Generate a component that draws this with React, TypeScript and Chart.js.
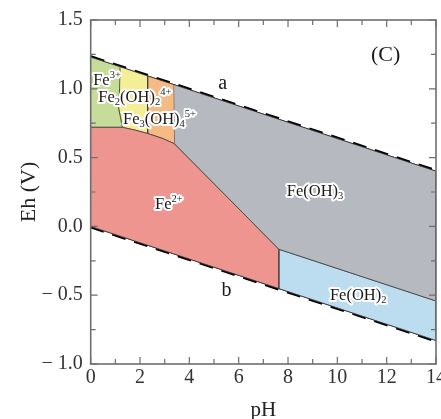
import { useEffect, useRef } from "react";
import { Chart, registerables } from "chart.js";

Chart.register(...registerables);

// ---- axis ticks ----
const pHTicks = [0, 2, 4, 6, 8, 10, 12, 14];
const ehTicks = [-1.0, -0.5, 0.0, 0.5, 1.0, 1.5];
const pHMinor = [1, 3, 5, 7, 9, 11, 13];
const ehMinor = [-0.75, -0.25, 0.25, 0.75, 1.25];

// ---- water stability lines (pH, Eh) ----
const waterA = [[0, 1.23], [14, 0.401]];
const waterB = [[0, 0.0], [14, -0.829]];

// ---- stability fields (pH, Eh) ----
const fe3Field = [[0, 1.23], [1.19, 1.16], [1.17, 1.0], [1.13, 0.86], [1.22, 0.78], [1.28, 0.72], [0, 0.72]];
const fe2oh2Field = [[1.19, 1.16], [2.31, 1.093], [2.31, 0.675], [1.8, 0.7], [1.28, 0.72], [1.22, 0.78], [1.13, 0.86], [1.17, 1.0]];
const fe3oh4Field = [[2.31, 1.093], [3.38, 1.03], [3.4, 0.6], [2.9, 0.64], [2.31, 0.675]];
const feoh3Field = [[3.38, 1.03], [14, 0.401], [14, -0.542], [7.63, -0.166], [3.4, 0.6]];
const fe2Field = [[0, 0.72], [1.28, 0.72], [1.8, 0.7], [2.31, 0.675], [2.9, 0.64], [3.4, 0.6], [7.63, -0.166], [7.63, -0.452], [0, 0]];
const feoh2Field = [[7.63, -0.166], [14, -0.542], [14, -0.829], [7.63, -0.452]];

// ---- text labels: parts [text, kind] kind 0 normal, 1 sub, 2 sup ----
type Part = [string, number];
const fieldLabels: { parts: Part[]; pH: number; eh: number }[] = [
  { parts: [["Fe", 0], ["3+", 2]], pH: 0.1, eh: 1.026 },
  { parts: [["Fe", 0], ["2", 1], ["(OH)", 0], ["2", 1], ["4+", 2]], pH: 0.31, eh: 0.902 },
  { parts: [["Fe", 0], ["3", 1], ["(OH)", 0], ["4", 1], ["5+", 2]], pH: 1.31, eh: 0.742 },
  { parts: [["Fe", 0], ["2+", 2]], pH: 2.61, eh: 0.13 },
  { parts: [["Fe(OH)", 0], ["3", 1]], pH: 7.95, eh: 0.219 },
  { parts: [["Fe(OH)", 0], ["2", 1]], pH: 9.7, eh: -0.534 },
];
const plainLabels: { text: string; pH: number; eh: number; size: number }[] = [
  { text: "a", pH: 5.35, eh: 0.997, size: 20 },
  { text: "b", pH: 5.51, eh: -0.509, size: 20 },
  { text: "(C)", pH: 11.96, eh: 1.2, size: 22 },
];

const SERIF = '"Liberation Serif", "DejaVu Serif", serif';

const toXY = (arr: number[][]) => arr.map(([x, y]) => ({ x, y }));

const fieldDataset = (data: number[][], color: string) => ({
  data: toXY(data),
  backgroundColor: color,
  borderColor: "#3c3c3c",
  borderWidth: 0.8,
  fill: "shape",
  pointRadius: 0,
  tension: 0,
});

const framePlugin = {
  id: "frameTicks",
  afterDatasetsDraw(chart: any) {
    const { ctx, chartArea: a, scales } = chart;
    const x = scales.x;
    const y = scales.y;
    ctx.save();
    ctx.strokeStyle = "#6e6e6e";
    ctx.lineWidth = 1.2;
    ctx.beginPath();
    const xt = (v: number, L: number) => {
      const p = x.getPixelForValue(v);
      ctx.moveTo(p, a.bottom);
      ctx.lineTo(p, a.bottom - L);
      ctx.moveTo(p, a.top);
      ctx.lineTo(p, a.top + L);
    };
    const yt = (v: number, L: number) => {
      const p = y.getPixelForValue(v);
      ctx.moveTo(a.left, p);
      ctx.lineTo(a.left + L, p);
      ctx.moveTo(a.right, p);
      ctx.lineTo(a.right - L, p);
    };
    pHTicks.forEach((v) => xt(v, 7));
    pHMinor.forEach((v) => xt(v, 5));
    ehTicks.forEach((v) => yt(v, 7));
    ehMinor.forEach((v) => yt(v, 5));
    ctx.stroke();
    ctx.lineWidth = 1.6;
    ctx.strokeRect(a.left, a.top, a.right - a.left, a.bottom - a.top);
    ctx.restore();
  },
};

const labelPlugin = {
  id: "fieldLabels",
  afterDraw(chart: any) {
    const { ctx, scales } = chart;
    const x = scales.x;
    const y = scales.y;
    ctx.save();
    ctx.textBaseline = "alphabetic";
    ctx.textAlign = "left";
    ctx.lineJoin = "round";
    const big = 16.5;
    const small = 10.5;
    fieldLabels.forEach((lab) => {
      const x0 = x.getPixelForValue(lab.pH);
      const y0 = y.getPixelForValue(lab.eh);
      const runs: { t: string; x: number; y: number; f: string }[] = [];
      let cx = x0;
      lab.parts.forEach(([t, k]) => {
        const f = `${k === 0 ? big : small}px ${SERIF}`;
        ctx.font = f;
        const dy = k === 1 ? 3 : k === 2 ? -7 : 0;
        runs.push({ t, x: cx, y: y0 + dy, f });
        cx += ctx.measureText(t).width;
      });
      ctx.strokeStyle = "#ffffff";
      ctx.lineWidth = 4;
      runs.forEach((r) => {
        ctx.font = r.f;
        ctx.strokeText(r.t, r.x, r.y);
      });
      ctx.fillStyle = "#1a1a1a";
      runs.forEach((r) => {
        ctx.font = r.f;
        ctx.fillText(r.t, r.x, r.y);
      });
    });
    ctx.textAlign = "center";
    plainLabels.forEach((lab) => {
      ctx.font = `${lab.size}px ${SERIF}`;
      ctx.fillStyle = "#1a1a1a";
      ctx.fillText(lab.text, x.getPixelForValue(lab.pH), y.getPixelForValue(lab.eh));
    });
    ctx.restore();
  },
};

export default function App() {
  const ref = useRef<HTMLCanvasElement | null>(null);

  useEffect(() => {
    document.body.style.margin = "0";
    const canvas = ref.current;
    if (!canvas) return;
    const chart = new Chart(canvas, {
      type: "line",
      data: {
        datasets: [
          fieldDataset(feoh3Field, "#b6b9bf"),
          fieldDataset(fe2Field, "#ef9590"),
          fieldDataset(feoh2Field, "#bcdcf0"),
          fieldDataset(fe3Field, "#c5dd99"),
          fieldDataset(fe2oh2Field, "#f4ef96"),
          fieldDataset(fe3oh4Field, "#f6ba84"),
          { data: toXY(waterA), borderColor: "#000", borderWidth: 1, pointRadius: 0, fill: false },
          { data: toXY(waterA), borderColor: "#000", borderWidth: 4, borderDash: [14, 9], pointRadius: 0, fill: false },
          { data: toXY(waterB), borderColor: "#000", borderWidth: 1, pointRadius: 0, fill: false },
          { data: toXY(waterB), borderColor: "#000", borderWidth: 4, borderDash: [14, 9], pointRadius: 0, fill: false },
        ] as any,
      },
      options: {
        responsive: false,
        animation: false,
        events: [],
        layout: { padding: { top: 20, right: 5, bottom: 0, left: 0 } },
        plugins: {
          legend: { display: false },
          tooltip: { enabled: false },
        },
        scales: {
          x: {
            type: "linear",
            min: 0,
            max: 14,
            grid: { display: false, drawTicks: false },
            border: { display: false },
            ticks: {
              padding: 2,
              color: "#333",
              font: { family: SERIF, size: 20 },
              maxRotation: 0,
            },
            afterBuildTicks: (s: any) => {
              s.ticks = pHTicks.map((v) => ({ value: v }));
            },
            afterFit: (s: any) => {
              s.height = 55;
              s.paddingLeft = 0;
              s.paddingRight = 0;
            },
            title: {
              display: true,
              text: "pH",
              color: "#222",
              font: { family: SERIF, size: 21 },
              padding: { top: 0, bottom: -4 },
            },
          },
          y: {
            type: "linear",
            min: -1,
            max: 1.5,
            grid: { display: false, drawTicks: false },
            border: { display: false },
            ticks: {
              padding: 8,
              color: "#333",
              font: { family: SERIF, size: 20 },
              callback: (v: any) => {
                const n = Number(v);
                return n < 0 ? "\u2212 " + Math.abs(n).toFixed(1) : n.toFixed(1);
              },
            },
            afterBuildTicks: (s: any) => {
              s.ticks = ehTicks.map((v) => ({ value: v }));
            },
            afterFit: (s: any) => {
              s.width = 90.7;
              s.paddingTop = 0;
              s.paddingBottom = 0;
            },
            title: {
              display: true,
              text: "Eh (V)",
              color: "#222",
              font: { family: SERIF, size: 22 },
              padding: { top: 16, bottom: 0 },
            },
          },
        },
      },
      plugins: [framePlugin, labelPlugin],
    });
    return () => chart.destroy();
  }, []);

  return (
    <canvas ref={ref} width={441} height={419} style={{ display: "block", width: 441, height: 419 }} />
  );
}
